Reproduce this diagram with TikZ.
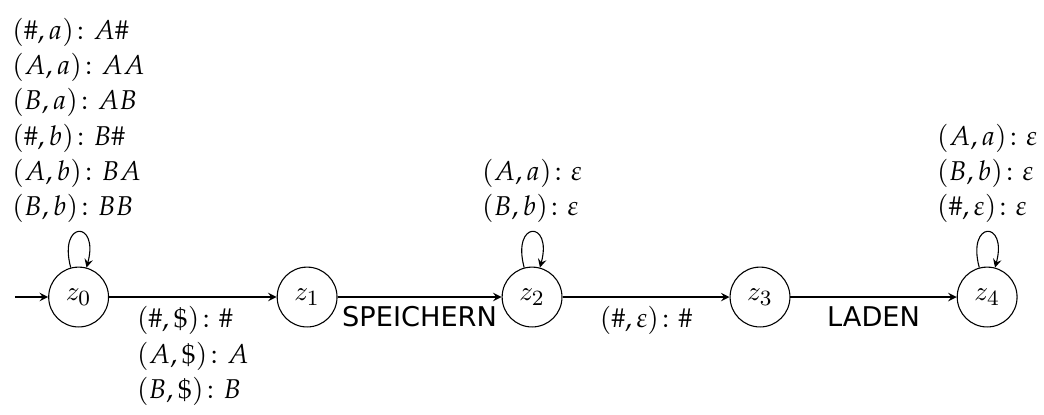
\documentclass[tikz,border=0pt]{standalone}
\usepackage{amsmath}
\usepackage{mathpazo}
\usepackage{fontspec}
\newfontfamily\dvsans{DejaVu Sans}
\DeclareMathAlphabet{\lmmi}{OML}{lmm}{m}{it}
\DeclareMathAlphabet{\lmrm}{OT1}{lmr}{m}{n}
\usetikzlibrary{arrows}
\begin{document}
\begin{tikzpicture}[x=1pt,y=1pt, >=stealth,
  statenode/.style={circle,draw,minimum size=22pt,inner sep=0pt},
  lbl/.style={align=left, font=\fontsize{10}{12.9}\selectfont},
  sanslbl/.style={font=\dvsans\fontsize{10}{12}\selectfont},
  every loop/.style={min distance=5mm,looseness=8}]
\useasboundingbox (0,0) rectangle (383.8,152.2);
\node[statenode] (z0) at (28.9,43) {$\lmmi{z}_{\lmrm{0}}$};
\node[statenode] (z1) at (112.9,43) {$\lmmi{z}_{\lmrm{1}}$};
\node[statenode] (z2) at (195.6,43) {$\lmmi{z}_{\lmrm{2}}$};
\node[statenode] (z3) at (279.4,43) {$\lmmi{z}_{\lmrm{3}}$};
\node[statenode] (z4) at (362.9,43) {$\lmmi{z}_{\lmrm{4}}$};
\coordinate (start) at (5.5,43);
\draw[->] (start) -- (z0);
\draw[->] (z0) -- node[below, lbl] {$(\#,\$)\colon \#$\\ $(A,\$)\colon A$\\ $(B,\$)\colon B$} (z1);
\draw[->] (z1) -- node[below, sanslbl] {SPEICHERN} (z2);
\draw[->] (z2) -- node[below, lbl] {$(\#,\varepsilon)\colon \#$} (z3);
\draw[->] (z3) -- node[below, sanslbl] {LADEN} (z4);
\path[->] (z0) edge[loop above] node[above, lbl] {$(\#,a)\colon A\#$\\ $(A,a)\colon AA$\\ $(B,a)\colon AB$\\ $(\#,b)\colon B\#$\\ $(A,b)\colon BA$\\ $(B,b)\colon BB$} ();
\path[->] (z2) edge[loop above] node[above, lbl] {$(A,a)\colon \varepsilon$\\ $(B,b)\colon \varepsilon$} ();
\path[->] (z4) edge[loop above] node[above, lbl] {$(A,a)\colon \varepsilon$\\ $(B,b)\colon \varepsilon$\\ $(\#,\varepsilon)\colon \varepsilon$} ();
\end{tikzpicture}
\end{document}
